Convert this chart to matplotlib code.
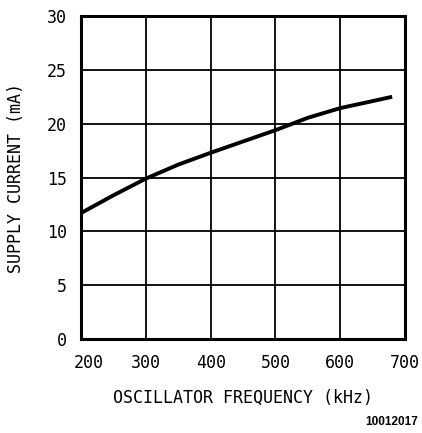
import matplotlib.pyplot as plt
import matplotlib.transforms as mtransforms

# Supply current vs oscillator frequency
freq_khz = [200, 250, 300, 350, 400, 450, 500, 550, 600, 650, 680]
supply_ma = [11.7, 13.35, 14.9, 16.2, 17.3, 18.35, 19.4, 20.55, 21.45, 22.1, 22.5]

x_ticks = [200, 300, 400, 500, 600, 700]
y_ticks = [0, 5, 10, 15, 20, 25, 30]

plt.rcParams['font.family'] = ['DejaVu Sans Mono']

fig = plt.figure(figsize=(4.22, 4.33), dpi=100)
ax = fig.add_axes([0.192, 0.217, 0.768, 0.746])

ax.plot(freq_khz, supply_ma, color="black", linewidth=2.8,
        solid_capstyle="butt", solid_joinstyle="round")

ax.set_xlim(200, 700)
ax.set_ylim(0, 30)
ax.set_xticks(x_ticks)
ax.set_yticks(y_ticks)
ax.grid(True, color="black", linewidth=1.3)
ax.tick_params(length=0, labelsize=12)
ax.tick_params(axis="x", pad=11)
ax.tick_params(axis="y", pad=10)
for s in ax.spines.values():
    s.set_linewidth(2.2)

# first x label sits a bit right of its tick, clear of the "0"
first = ax.get_xticklabels()[0]
first.set_transform(first.get_transform() +
                    mtransforms.ScaledTranslation(8 / 100, 0, fig.dpi_scale_trans))

ax.set_xlabel("OSCILLATOR FREQUENCY (kHz)", fontsize=12, labelpad=12)
ax.set_ylabel("SUPPLY CURRENT (mA)", fontsize=12, labelpad=16)

fig.text(0.99, 0.025, "10012017", ha="right", va="center", fontsize=8.5,
         fontweight="bold", family="Liberation Sans")

fig.savefig("out.png", dpi=100)
